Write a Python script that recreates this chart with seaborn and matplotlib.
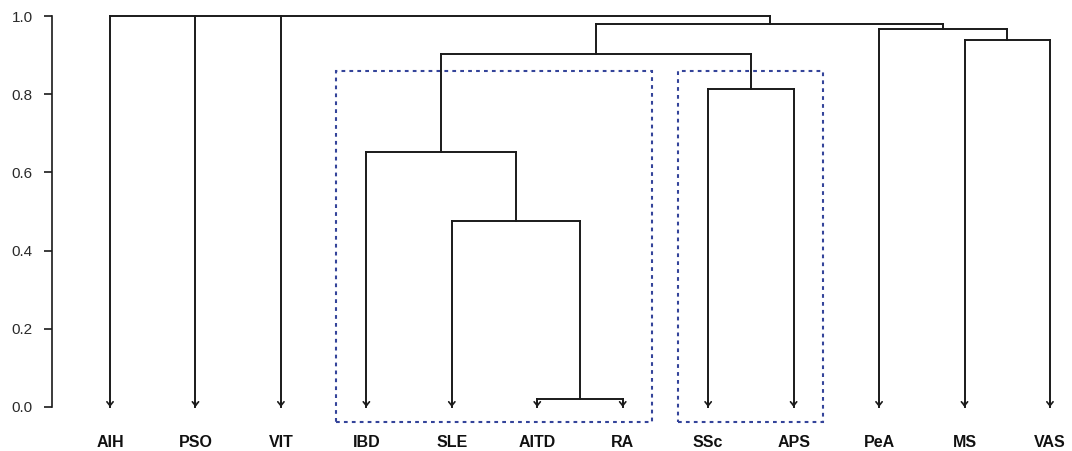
import pandas as pd
import seaborn as sns
import matplotlib.pyplot as plt
from matplotlib.patches import Rectangle

leaves = ["AIH", "PSO", "VIT", "IBD", "SLE", "AITD", "RA", "SSc", "APS", "PeA", "MS", "VAS"]

# cluster merges: new name, children, merge height
merge_names = ["c1", "c2", "c3", "c4", "c5", "c6", "c7", "c8", "root"]
merge_children = [["AITD", "RA"], ["SLE", "c1"], ["IBD", "c2"], ["SSc", "APS"],
                  ["c3", "c4"], ["MS", "VAS"], ["PeA", "c6"], ["c5", "c7"],
                  ["AIH", "PSO", "VIT", "c8"]]
merge_heights = [0.02, 0.476, 0.653, 0.8125, 0.902, 0.939, 0.967, 0.98, 1.0]

# groups highlighted with dotted boxes
boxed_groups = [["IBD", "SLE", "AITD", "RA"], ["SSc", "APS"]]

sns.set_style("ticks")
plt.rcParams['font.family'] = ['Liberation Sans', 'DejaVu Sans']

#build dendrogram segments
pos = {name: i for i, name in enumerate(leaves)}
hgt = {name: 0.0 for name in leaves}
rows = []
seg = 0
for name, kids, h in zip(merge_names, merge_children, merge_heights):
    xs = [pos[k] for k in kids]
    rows += [(seg, min(xs), h), (seg, max(xs), h)]
    seg += 1
    for k in kids:
        rows += [(seg, pos[k], hgt[k]), (seg, pos[k], h)]
        seg += 1
    pos[name] = (min(xs) + max(xs)) / 2
    hgt[name] = h
seg_df = pd.DataFrame(rows, columns=['seg', 'x', 'y'])

fig = plt.figure(figsize=(10.72, 4.51), dpi=100)
ax = fig.add_axes([52 / 1072, 44 / 451, 1 - 52 / 1072, 391 / 451])

line_col = '#1a1a1a'
sns.lineplot(data=seg_df, x='x', y='y', units='seg', estimator=None, sort=False,
             color=line_col, lw=1.4, solid_capstyle='projecting', clip_on=False, ax=ax)

#arrow heads at the leaves
for i, name in enumerate(leaves):
    ax.annotate('', xy=(i, 0), xytext=(i, 0.012),
                arrowprops=dict(arrowstyle='->,head_length=0.35,head_width=0.28',
                                mutation_scale=8, lw=1.2, color=line_col,
                                shrinkA=0, shrinkB=0),
                annotation_clip=False)

#dotted boxes
for grp in boxed_groups:
    x0 = pos[grp[0]] - 0.355
    x1 = pos[grp[-1]] + 0.34
    ax.add_patch(Rectangle((x0, -0.038), x1 - x0, 0.86 + 0.038, fill=False,
                           ec='#34449a', lw=1.5, ls=(0, (1.8, 2.0)), clip_on=False))

ax.set_xlim(-0.679, 11.258)
ax.set_ylim(0, 1)
ax.set_xticks(range(len(leaves)))
ax.set_xticklabels(leaves, fontsize=11.5, fontweight='bold', color='#111111')
ax.tick_params(axis='x', length=0, pad=20)
ax.set_yticks([0, 0.2, 0.4, 0.6, 0.8, 1.0])
ax.set_yticklabels([f'{v:.1f}' for v in [0, 0.2, 0.4, 0.6, 0.8, 1.0]],
                   fontsize=11, color='#2a2a2a')
ax.tick_params(axis='y', length=6, width=1.2, pad=8, color=line_col)
ax.set_xlabel('')
ax.set_ylabel('')
for s in ['top', 'right', 'bottom']:
    ax.spines[s].set_visible(False)
ax.spines['left'].set_linewidth(1.2)
ax.spines['left'].set_color(line_col)

plt.savefig('out.png', dpi=100)
